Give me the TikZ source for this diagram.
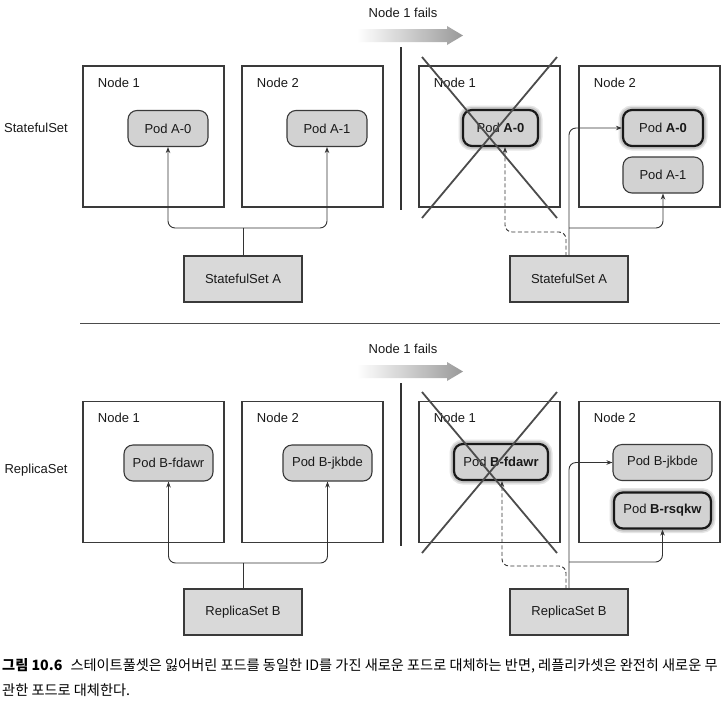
\documentclass[tikz,border=0pt]{standalone}
\usepackage{fontspec}
\usepackage{graphicx}
\setmainfont{Liberation Sans}
\newfontfamily\krfont{Noto Sans CJK KR}
\usetikzlibrary{arrows.meta,calc}
\definecolor{podfill}{HTML}{D2D2D2}
\definecolor{setfill}{HTML}{D9D9D9}
\definecolor{edge}{HTML}{3A3A3A}
\tikzset{
  every node/.style={font=\fontsize{13}{15}\selectfont, text=black!90},
  nodebox/.style={draw=edge, line width=1.1pt, fill=white, minimum width=141pt, minimum height=141pt, inner sep=0pt},
  podbox/.style={draw=edge, line width=1.1pt, fill=podfill, rounded corners=9pt, minimum height=36pt, inner sep=0pt},
  podbold/.style={podbox, draw=black!90, line width=2.2pt,
     preaction={draw=black!10, line width=9pt},
     preaction={draw=black!22, line width=6pt}},
  setbox/.style={draw=edge, line width=1.1pt, fill=setfill, minimum width=118pt, minimum height=46pt, inner sep=0pt},
  conn/.style={draw=black!80, line width=0.9pt, rounded corners=7pt, -{Stealth[length=6pt,width=4.5pt]}},
  stem/.style={draw=black!80, line width=0.9pt},
  dconn/.style={conn, dashed, dash pattern=on 4pt off 2.5pt},
  crossline/.style={draw=black!70, line width=1.8pt},
  divider/.style={draw=black!80, line width=1.4pt},
  sideLabel/.style={anchor=center},
  nodelabel/.style={anchor=west},
  failtext/.style={anchor=center},
}
\begin{document}
\begin{tikzpicture}[x=1pt,y=-1pt]
\useasboundingbox (0,0) rectangle (726,705);
\fill[white] (0,0) rectangle (726,705);

% ===================== TOP: StatefulSet =====================
\node[sideLabel] (lblSS) at (36,128) {StatefulSet};
\node[failtext] (fail1) at (403,13) {Node 1 fails};
\shade[left color=white, right color=black!40, draw=none]
  (357,29) -- (447,29) -- (447,26) -- (463,35.5) -- (447,45) -- (447,42) -- (357,42) -- cycle;
\draw[divider] (401,47) -- (401,210);

% left side
\node[nodebox] (tn1) at (153.5,136.5) {};
\node[nodebox] (tn2) at (312.5,136.5) {};
\node[nodelabel] at ($(tn1.north west)+(12,17)$) {Node 1};
\node[nodelabel] at ($(tn2.north west)+(12,17)$) {Node 2};
\node[podbox, minimum width=80pt] (pA0) at (168,128.5) {Pod A-0};
\node[podbox, minimum width=80pt] (pA1) at (327,128.5) {Pod A-1};
\node[setbox] (ssA) at (243,279) {StatefulSet A};
\coordinate (jA) at (243,228);
\draw[stem] (ssA.north) -- (jA);
\draw[conn] (jA) -| (pA0.south);
\draw[conn] (jA) -| (pA1.south);

% right side
\node[nodebox] (tn3) at (489.5,136.5) {};
\node[nodebox] (tn4) at (649.5,136.5) {};
\node[nodelabel] at ($(tn3.north west)+(12,17)$) {Node 1};
\node[nodelabel] at ($(tn4.north west)+(12,17)$) {Node 2};
\node[podbold, minimum width=75pt] (pA0x) at (500.5,128) {Pod \textbf{A-0}};
\node[podbold, minimum width=80pt] (pA0n) at (663,128) {Pod \textbf{A-0}};
\node[podbox, minimum width=80pt] (pA1n) at (663,175) {Pod A-1};
\node[setbox] (ssA2) at (569,279) {StatefulSet A};
\coordinate (jB) at (569,228);
\coordinate (dA) at (566,256);
\coordinate (dAk) at (505,232);
\draw[conn] (ssA2.north) |- (pA0n.west);
\draw[conn] (jB) -| (pA1n.south);
\draw[dconn] (dA) |- (dAk) -- (dAk |- pA0x.south);
\draw[crossline] (422,57) -- (557,218);
\draw[crossline] (557,57) -- (422,218);

% divider
\draw[draw=black!70, line width=0.9pt] (80,323) -- (720,323);

% ===================== BOTTOM: ReplicaSet =====================
\node[sideLabel] (lblRS) at (36,470) {ReplicaSet};
\node[failtext] (fail2) at (403,349) {Node 1 fails};
\shade[left color=white, right color=black!40, draw=none]
  (357,365) -- (447,365) -- (447,362) -- (463,371.5) -- (447,381) -- (447,378) -- (357,378) -- cycle;
\draw[divider] (401,383) -- (401,546);

\node[nodebox] (bn1) at (153.5,472) {};
\node[nodebox] (bn2) at (312.5,472) {};
\node[nodelabel] at ($(bn1.north west)+(12,17)$) {Node 1};
\node[nodelabel] at ($(bn2.north west)+(12,17)$) {Node 2};
\node[podbox, minimum width=89pt] (pBf) at (168.5,463) {Pod B-fdawr};
\node[podbox, minimum width=89pt] (pBj) at (327.5,463) {Pod B-jkbde};
\node[setbox] (rsB) at (243,612) {ReplicaSet B};
\coordinate (jC) at (243,563);
\draw[stem] (rsB.north) -- (jC);
\draw[conn] (jC) -| (pBf.south);
\draw[conn] (jC) -| (pBj.south);

\node[nodebox] (bn3) at (489.5,472) {};
\node[nodebox] (bn4) at (649.5,472) {};
\node[nodelabel] at ($(bn3.north west)+(12,17)$) {Node 1};
\node[nodelabel] at ($(bn4.north west)+(12,17)$) {Node 2};
\node[podbold, minimum width=94pt] (pBfx) at (501,462) {Pod \textbf{B-fdawr}};
\node[podbox, minimum width=99pt] (pBjn) at (662.5,462.5) {Pod B-jkbde};
\node[podbold, minimum width=97pt] (pBrn) at (662.5,510.5) {Pod \textbf{B-rsqkw}};
\node[setbox] (rsB2) at (569,612) {ReplicaSet B};
\coordinate (jD) at (569,562);
\coordinate (dB) at (566,589);
\coordinate (dBk) at (502,566);
\draw[conn] (rsB2.north) |- (pBjn.west);
\draw[conn] (jD) -| (pBrn.south);
\draw[dconn] (dB) |- (dBk) -- (dBk |- pBfx.south);
\draw[crossline] (422,392) -- (557,553);
\draw[crossline] (557,392) -- (422,553);

% ===================== CAPTION =====================
\node[anchor=west, inner sep=0pt, font=\krfont\fontsize{14.2}{16}\selectfont, text=black] (cap1) at (2,666)
  {\textbf{그림 10.6}\hspace{8pt}스테이트풀셋은 잃어버린 포드를 동일한 ID를 가진 새로운 포드로 대체하는 반면, 레플리카셋은 완전히 새로운 무};
\node[anchor=west, inner sep=0pt, font=\krfont\fontsize{14.2}{16}\selectfont, text=black] (cap2) at (2,690)
  {관한 포드로 대체한다.};
\end{tikzpicture}
\end{document}
